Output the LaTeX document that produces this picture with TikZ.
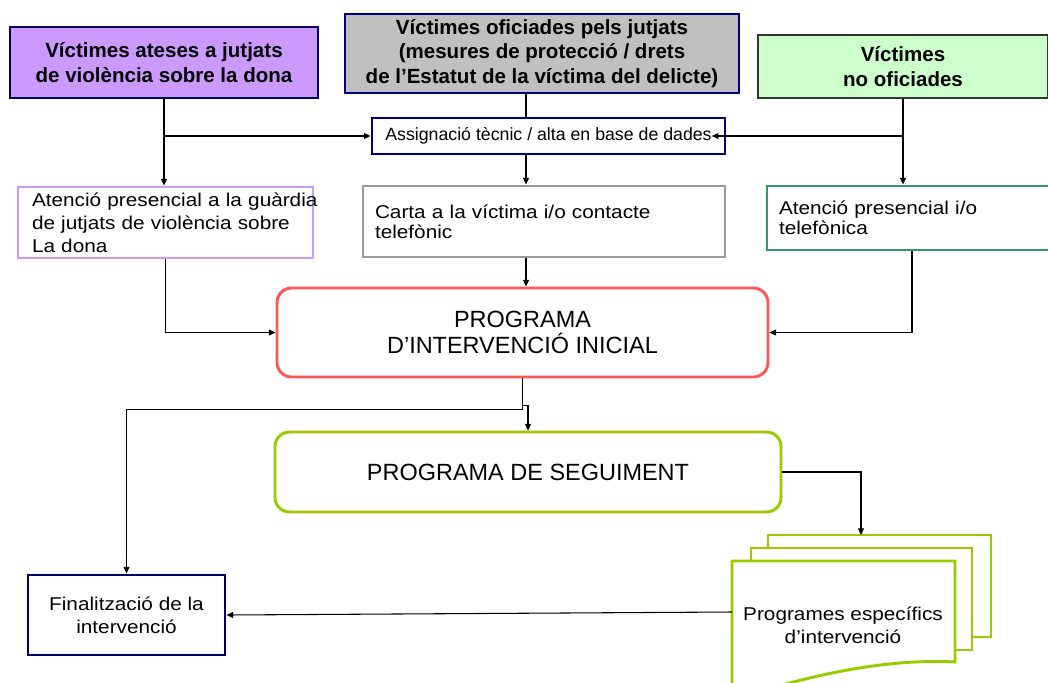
\documentclass[tikz,border=0pt]{standalone}
\usepackage{fontspec}
\setmainfont{Liberation Sans}
\newfontfamily\bodyfont{Liberation Sans}[FakeStretch=1.12]
\usepackage{tikz}
\usetikzlibrary{arrows.meta,positioning}
\definecolor{lila}{HTML}{CC99FF}
\definecolor{gris}{HTML}{C0C0C0}
\definecolor{verdclar}{HTML}{CCFFCC}
\definecolor{marina}{HTML}{000080}
\definecolor{verdmar}{HTML}{339966}
\definecolor{vermell}{HTML}{FF5555}
\definecolor{llima}{HTML}{99CC00}

\begin{document}
\begin{tikzpicture}[x=0.75pt, y=-0.75pt, line width=0.8pt, >={Triangle[length=5pt,width=4.5pt]}]
\tikzstyle{capbox} = [rectangle, line width=0.9pt, inner sep=0pt, align=center, font=\bfseries\fontsize{15.4}{18.4}\selectfont]
\tikzstyle{pasbox} = [rectangle, line width=2.2pt, inner sep=0pt, inner xsep=9pt, align=left, font=\bodyfont\fontsize{13.9}{15}\selectfont]
\tikzstyle{progbox} = [rectangle, rounded corners=11pt, line width=2.2pt, align=center, font=\fontsize{17.6}{19.3}\selectfont]
\tikzstyle{fulla} = [draw=llima, line width=2.2pt, fill=white]
\useasboundingbox (0,0) rectangle (1048,682);
\clip (0,0) rectangle (1048,682);
% capçaleres
\node[capbox, fill=lila, draw=marina!70!black, minimum width=231pt, minimum height=53.25pt] (A) at (164,62.5) {Víctimes ateses a jutjats\\de violència sobre la dona};
\node[capbox, fill=gris, draw=marina, minimum width=295.5pt, minimum height=59.25pt] (B) at (542,53.5) {Víctimes oficiades pels jutjats\\(mesures de protecció / drets\\de l’Estatut de la víctima del delicte)};
\node[capbox, fill=verdclar, draw=black!80, minimum width=217.5pt, minimum height=47.25pt] (C) at (903,66.5) {Víctimes\\no oficiades};
\node[draw=marina, line width=2.2pt, inner sep=0pt, minimum width=264.75pt, minimum height=27pt, font=\fontsize{13.3}{16}\selectfont] (E) at (548.5,136) {Assignació tècnic / alta en base de dades};
% primera atenció
\node[pasbox, draw=lila, text width=200.25pt, inner xsep=10.5pt, minimum height=53.25pt, font=\bodyfont\fontsize{13.9}{17.25}\selectfont] (D) at (165.5,222.5) {\mbox{Atenció presencial a la guàrdia}\\de jutjats de violència sobre\\La dona};
\node[pasbox, draw=black!40, text width=253.5pt, minimum height=53.25pt] (G) at (544,221.5) {Carta a la víctima i/o contacte\\telefònic};
\node[pasbox, draw=verdmar, text width=199.5pt, minimum height=48pt] (F) at (912,218) {Atenció presencial i/o\\telefònica};
% programes
\node[progbox, draw=vermell, minimum width=368.25pt, minimum height=66.75pt] (H) at (522.5,332.5) {PROGRAMA\\D’INTERVENCIÓ INICIAL};
\node[progbox, draw=llima, minimum width=379.5pt, minimum height=60pt] (I) at (528,472) {PROGRAMA DE SEGUIMENT};
\node[draw=marina!80!black, line width=2.2pt, minimum width=147.75pt, minimum height=60pt, align=center, font=\bodyfont\fontsize{13.9}{17.25}\selectfont] (J) at (126.5,615) {Finalització de la\\intervenció};
% documents
\draw[fulla] (768,535) rectangle (991,637);
\draw[fulla] (751,548) rectangle (972,650);
\draw[fulla] (732,561) -- (955,561) -- (955,662) .. controls (880,658) and (800,678) .. (732,700) -- cycle;
\node[align=center, font=\bodyfont\fontsize{13.9}{17.25}\selectfont] (P) at (843,625) {Programes específics\\d’intervenció};
\coordinate (docn) at (861,535);
\coordinate (docw) at (732,612);
\coordinate (mid) at (526,0);
% fletxes
\draw[->] (A.south) -- (A.south |- D.north);
\draw[->] (A.south |- E.west) -- (E.west);
\draw[->] (C.south) -- (C.south |- F.north);
\draw[->] (C.south |- E.east) -- ([xshift=-11pt]E.east);
\draw (mid |- B.south) -- (mid |- E.north);
\draw[->] (mid |- E.south) -- (mid |- G.north);
\draw[->] (mid |- G.south) -- (mid |- H.north);
\draw[->] (D.south) |- (H.west);
\draw[->] (F.south) |- (H.east);
\draw[->] (H.south) -- ++(0,27) -| (I.north);
\draw[->] (H.south) -- ++(0,31) -| (J.north);
\draw[->] (I.east) -| (docn);
\draw[->] (docw) -- (J.east);
\end{tikzpicture}
\end{document}
